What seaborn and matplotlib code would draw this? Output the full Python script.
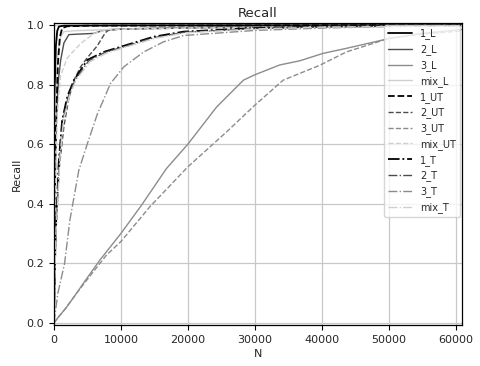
import matplotlib
matplotlib.use("Agg")
import matplotlib.pyplot as plt
import seaborn as sns
import numpy as np

sns.set_style("ticks")
plt.rcParams['font.family'] = ['DejaVu Sans']

# ---- data ----
n_1_L = [0, 50, 150, 300, 500, 750, 1500, 10000, 61000]
r_1_L = [0.0, 0.5, 0.8, 0.93, 0.98, 0.995, 0.998, 0.999, 1.0]

n_2_L = [0, 150, 400, 700, 1000, 1500, 2240, 4000, 5970, 7500, 10000, 20000, 30000, 61000]
r_2_L = [0.0, 0.45, 0.7, 0.82, 0.88, 0.94, 0.968, 0.97, 0.972, 0.983, 0.987, 0.992, 0.995, 1.0]

n_3_L = [0, 700, 1800, 3400, 4400, 6870, 10000, 13080, 16800, 20000, 24300, 28300, 30000, 33700, 36700, 40200, 43700, 50100, 55000, 60900]
r_3_L = [0.0, 0.02, 0.05, 0.1, 0.133, 0.211, 0.30, 0.395, 0.518, 0.60, 0.725, 0.815, 0.833, 0.866, 0.88, 0.905, 0.922, 0.955, 0.972, 0.985]

n_mix_L = [0, 100, 300, 500, 750, 1000, 1500, 3000, 6000, 10000, 30000, 61000]
r_mix_L = [0.0, 0.45, 0.75, 0.88, 0.93, 0.96, 0.978, 0.981, 0.983, 0.987, 0.993, 0.998]

n_1_UT = [0, 100, 300, 600, 900, 1240, 2000, 5000, 61000]
r_1_UT = [0.0, 0.35, 0.65, 0.87, 0.96, 0.99, 0.996, 0.998, 1.0]

n_2_UT = [0, 300, 800, 1500, 2200, 2985, 4000, 4975, 6470, 7700, 8200, 10000, 20000, 40000, 61000]
r_2_UT = [0.0, 0.3, 0.52, 0.66, 0.75, 0.815, 0.86, 0.89, 0.93, 0.975, 0.983, 0.986, 0.99, 0.995, 1.0]

n_3_UT = [0, 700, 1800, 3400, 6000, 7860, 10000, 14330, 20000, 25770, 30000, 34230, 39700, 43700, 50000, 55000, 60900]
r_3_UT = [0.0, 0.02, 0.05, 0.1, 0.175, 0.228, 0.273, 0.39, 0.524, 0.641, 0.731, 0.815, 0.865, 0.91, 0.955, 0.97, 0.98]

n_mix_UT = [0, 200, 500, 1000, 2000, 4000, 6000, 8000, 20000, 61000]
r_mix_UT = [0.0, 0.4, 0.7, 0.83, 0.89, 0.938, 0.972, 0.985, 0.99, 0.998]

n_1_T = [0, 250, 500, 750, 1240, 2000, 3000, 5000, 7460, 9950, 12440, 14900, 19400, 30000, 40000, 61000]
r_1_T = [0.0, 0.3, 0.42, 0.55, 0.68, 0.76, 0.815, 0.883, 0.91, 0.927, 0.944, 0.961, 0.978, 0.99, 0.995, 0.999]

n_2_T = [0, 280, 550, 820, 1340, 2150, 3150, 5200, 7600, 10100, 12600, 15000, 19500, 30000, 40000, 61000]
r_2_T = [0.0, 0.3, 0.42, 0.55, 0.68, 0.76, 0.815, 0.88, 0.908, 0.925, 0.942, 0.958, 0.976, 0.988, 0.994, 0.998]

n_3_T = [0, 600, 1600, 2390, 3730, 4975, 6470, 8460, 10450, 13430, 16400, 19400, 30000, 40000, 50000, 61000]
r_3_T = [0.0, 0.1, 0.2, 0.345, 0.513, 0.60, 0.70, 0.804, 0.86, 0.91, 0.944, 0.965, 0.982, 0.99, 0.995, 0.998]

n_mix_T = [0, 300, 600, 900, 1440, 2300, 3300, 5400, 7800, 10300, 12800, 15200, 19700, 30000, 40000, 61000]
r_mix_T = [0.0, 0.3, 0.42, 0.55, 0.68, 0.76, 0.815, 0.877, 0.905, 0.923, 0.94, 0.956, 0.974, 0.987, 0.993, 0.997]

labels = ["1_L", "2_L", "3_L", "mix_L", "1_UT", "2_UT", "3_UT", "mix_UT", "1_T", "2_T", "3_T", "mix_T"]
xs = [n_1_L, n_2_L, n_3_L, n_mix_L, n_1_UT, n_2_UT, n_3_UT, n_mix_UT, n_1_T, n_2_T, n_3_T, n_mix_T]
ys = [r_1_L, r_2_L, r_3_L, r_mix_L, r_1_UT, r_2_UT, r_3_UT, r_mix_UT, r_1_T, r_2_T, r_3_T, r_mix_T]

colors = {"1": "#000000", "2": "#4d4d4d", "3": "#8c8c8c", "mix": "#cfcfcf"}
styles = {"L": "-", "UT": "--", "T": "-."}

fig = plt.figure(figsize=(4.81, 3.66), dpi=100)
ax = fig.add_axes([0.112, 0.112, 0.848, 0.826])

for lab, x, y in zip(labels, xs, ys):
    grp, kind = lab.split("_")
    lw = 1.3 if grp == "1" else 1.0
    sns.lineplot(x=x, y=y, ax=ax, color=colors[grp], linestyle=styles[kind],
                 linewidth=lw, label=lab, sort=False, estimator=None)

ax.set_xlim(0, 60900)
ax.set_ylim(-0.007, 1.008)
ax.set_xticks([0, 10000, 20000, 30000, 40000, 50000, 60000])
ax.set_yticks([0.0, 0.2, 0.4, 0.6, 0.8, 1.0])
ax.yaxis.set_major_formatter(matplotlib.ticker.FormatStrFormatter('%.1f'))
ax.grid(True, color='#c8c8c8', linewidth=0.9)
ax.set_axisbelow(True)
for s in ax.spines.values():
    s.set_color('black')
    s.set_linewidth(0.9)
ax.tick_params(labelsize=8, length=3.5, width=0.8, color='black')
ax.set_xlabel("N", fontsize=8, labelpad=3)
ax.set_ylabel("Recall", fontsize=8, labelpad=3)
ax.set_title("Recall", fontsize=9.5, pad=4)
ax.legend(loc="upper right", fontsize=7, frameon=True, borderaxespad=0.2,
          handlelength=2.5, fancybox=True, framealpha=0.8, edgecolor='#cccccc')

fig.savefig("out.png", dpi=100)
